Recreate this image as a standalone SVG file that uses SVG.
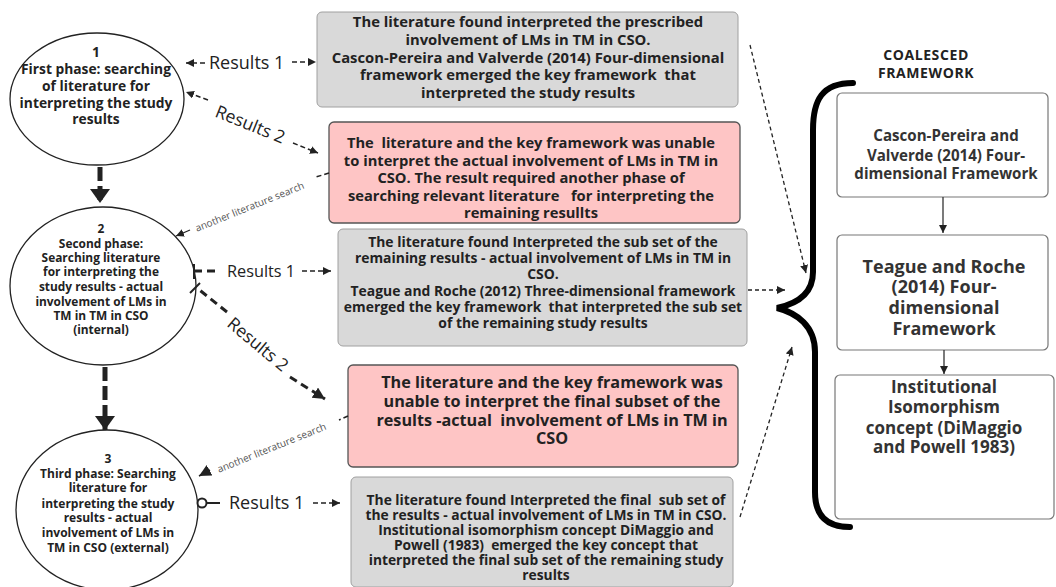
<svg xmlns="http://www.w3.org/2000/svg" width="1056" height="587" viewBox="0 0 1056 587">
<style>
.nt{font-family:"Open Sans","Noto Sans",sans-serif;font-weight:700;fill:#222;text-anchor:middle}
.rt{font-family:"Open Sans","Noto Sans",sans-serif;font-weight:700;fill:#333;text-anchor:middle}
.lbl{font-family:"Open Sans","Noto Sans",sans-serif;fill:#222}
.sm{font-family:"Open Sans","Noto Sans",sans-serif;font-size:10px;fill:#555;text-anchor:middle}
.circ{fill:#fff;stroke:#222;stroke-width:1.3}
.grey{fill:#d9d9d9;stroke:#a0a0a0;stroke-width:1}
.pink{fill:#fec5c5;stroke:#555;stroke-width:1.3}
.wbox{fill:#fff;stroke:#777;stroke-width:1.2}
.d{fill:none;stroke:#222;stroke-width:1.5;stroke-dasharray:5 3}
.dt{fill:none;stroke:#222;stroke-width:1.3;stroke-dasharray:4 3}
.thick{fill:none;stroke:#222;stroke-width:5;stroke-dasharray:14 5}
.mid{fill:none;stroke:#222;stroke-width:3;stroke-dasharray:8 5}
</style>
<defs>
<marker id="arr" markerUnits="userSpaceOnUse" markerWidth="10" markerHeight="10" refX="8" refY="4" orient="auto"><path d="M0,0 L8,4 L0,8 z" fill="#222"/></marker>
<marker id="arrM" markerUnits="userSpaceOnUse" markerWidth="14" markerHeight="14" refX="12" refY="6" orient="auto"><path d="M0,0 L12,6 L0,12 z" fill="#222"/></marker>
<marker id="arrB" markerUnits="userSpaceOnUse" markerWidth="20" markerHeight="22" refX="14" refY="10" orient="auto"><path d="M0,0 L14,10 L0,20 z" fill="#222"/></marker>
</defs>

<g id="phase1">
<ellipse class="circ" cx="97" cy="99" rx="87" ry="66"/>
<text class="nt" font-size="13.8"><tspan x="96" y="57">1</tspan><tspan x="96" y="74">First phase: searching</tspan><tspan x="96" y="91">of literature for</tspan><tspan x="96" y="108">interpreting the study</tspan><tspan x="96" y="124">results</tspan></text>
</g>
<g id="phase2">
<ellipse class="circ" cx="103" cy="286" rx="93" ry="79"/>
<text class="nt" font-size="11.9"><tspan x="101" y="233">2</tspan><tspan x="101" y="248">Second phase:</tspan><tspan x="101" y="262">Searching literature</tspan><tspan x="101" y="276">for interpreting the</tspan><tspan x="101" y="291">study results - actual</tspan><tspan x="101" y="306">involvement of LMs in</tspan><tspan x="101" y="320">TM in TM in CSO</tspan><tspan x="101" y="334">(internal)</tspan></text>
</g>
<g id="phase3">
<ellipse class="circ" cx="107" cy="510" rx="91" ry="80"/>
<text class="nt" font-size="12"><tspan x="108" y="463">3</tspan><tspan x="108" y="478">Third phase: Searching</tspan><tspan x="108" y="492">literature for</tspan><tspan x="108" y="508">interpreting the study</tspan><tspan x="108" y="522">results - actual</tspan><tspan x="108" y="537">involvement of LMs in</tspan><tspan x="108" y="552">TM in CSO (external)</tspan></text>
</g>

<g id="box1">
<rect class="grey" x="317" y="12" width="421" height="95" rx="5" stroke="#e2e2e2"/>
<text class="nt" font-size="14.8" xml:space="preserve"><tspan x="528" y="27">The literature found interpreted the prescribed</tspan><tspan x="528" y="45">involvement of LMs in TM in CSO.</tspan><tspan x="528" y="63">Cascon-Pereira and Valverde (2014) Four-dimensional</tspan><tspan x="528" y="80">framework emerged the key framework  that</tspan><tspan x="528" y="98">interpreted the study results</tspan></text>
</g>
<g id="box2">
<rect class="pink" x="329" y="122" width="411" height="101" rx="5"/>
<text class="nt" font-size="14.7" xml:space="preserve"><tspan x="531" y="148">The  literature and the key framework was unable</tspan><tspan x="531" y="166">to interpret the actual involvement of LMs in TM in</tspan><tspan x="531" y="183">CSO. The result required another phase of</tspan><tspan x="531" y="201">searching relevant literature   for interpreting the</tspan><tspan x="531" y="218">remaining resullts</tspan></text>
</g>
<g id="box3">
<rect class="grey" x="338" y="229" width="409" height="117" rx="5" stroke="#888"/>
<text class="nt" font-size="13.9" xml:space="preserve"><tspan x="543" y="247">The literature found Interpreted the sub set of the</tspan><tspan x="543" y="263">remaining results - actual involvement of LMs in TM in</tspan><tspan x="543" y="279">CSO.</tspan><tspan x="543" y="296">Teague and Roche (2012) Three-dimensional framework</tspan><tspan x="543" y="312">emerged the key framework  that interpreted the sub set</tspan><tspan x="543" y="328">of the remaining study results</tspan></text>
</g>
<g id="box4">
<rect class="pink" x="348" y="365" width="390" height="102" rx="5"/>
<text class="nt" font-size="16.2" xml:space="preserve"><tspan x="552" y="388">The literature and the key framework was</tspan><tspan x="552" y="407">unable to interpret the final subset of the</tspan><tspan x="552" y="426">results -actual  involvement of LMs in TM in</tspan><tspan x="552" y="444">CSO</tspan></text>
</g>
<g id="box5">
<rect class="grey" x="351" y="477" width="382" height="110" rx="5" stroke="#888"/>
<text class="nt" font-size="13.8" xml:space="preserve"><tspan x="546" y="505">The literature found Interpreted the final  sub set of</tspan><tspan x="546" y="520">the results - actual involvement of LMs in TM in CSO.</tspan><tspan x="546" y="535">Institutional isomorphism concept DiMaggio and</tspan><tspan x="546" y="550">Powell (1983)  emerged the key concept that</tspan><tspan x="546" y="565">interpreted the final sub set of the remaining study</tspan><tspan x="546" y="580">results</tspan></text>
</g>

<g id="coalesced-title">
<text class="nt" font-size="14" letter-spacing="0.6"><tspan x="926" y="60">COALESCED</tspan><tspan x="926" y="78">FRAMEWORK</tspan></text>
</g>
<g id="brace">
<path d="M853 83 C822 83 813 100 813 130 L813 272 C813 294 796 304 777 308 C797 313 815 326 815 352 L815 492 C815 515 826 527 850 527" fill="none" stroke="#000" stroke-width="6" stroke-linecap="round"/>
</g>
<g id="fw1">
<rect class="wbox" x="837" y="93" width="211" height="104" rx="5"/>
<text class="rt" font-size="15.1"><tspan x="946" y="141">Cascon-Pereira and</tspan><tspan x="946" y="161">Valverde (2014) Four-</tspan><tspan x="946" y="179">dimensional Framework</tspan></text>
</g>
<g id="fw2">
<rect class="wbox" x="837" y="235" width="211" height="115" rx="5"/>
<text class="rt" font-size="18"><tspan x="944" y="273">Teague and Roche</tspan><tspan x="944" y="293">(2014) Four-</tspan><tspan x="944" y="314">dimensional</tspan><tspan x="944" y="335">Framework</tspan></text>
</g>
<g id="fw3">
<rect class="wbox" x="835" y="375" width="219" height="144" rx="5"/>
<text class="rt" font-size="17"><tspan x="944" y="393">Institutional</tspan><tspan x="944" y="413">Isomorphism</tspan><tspan x="944" y="434">concept (DiMaggio</tspan><tspan x="944" y="453">and Powell 1983)</tspan></text>
</g>

<g id="connectors">
<line class="thick" x1="100" y1="167" x2="100" y2="203" marker-end="url(#arrB)"/>
<line class="thick" x1="105" y1="367" x2="105" y2="430" marker-end="url(#arrB)"/>

<line class="d" x1="205" y1="63" x2="186" y2="63" marker-end="url(#arr)"/>
<text class="lbl" font-size="18" x="209" y="69">Results 1</text>
<line class="d" x1="292" y1="62" x2="316" y2="62" marker-end="url(#arr)"/>
<line class="d" x1="208" y1="100" x2="186" y2="92" marker-end="url(#arr)"/>
<text class="lbl" font-size="17.5" text-anchor="middle" x="248" y="130" transform="rotate(22 248 130)">Results 2</text>
<line class="d" x1="293" y1="143" x2="318" y2="153" marker-end="url(#arr)"/>

<line class="d" x1="329" y1="173" x2="316" y2="177"/>
<text class="sm" x="251" y="210" transform="rotate(-22 251 210)">another literature search</text>
<line x1="190" y1="230" x2="176" y2="236" stroke="#222" stroke-width="1.3" marker-end="url(#arr)"/>

<line x1="194" y1="264" x2="194" y2="279" stroke="#222" stroke-width="2"/>
<line class="mid" x1="194" y1="271" x2="219" y2="271"/>
<text class="lbl" font-size="16.3" x="227" y="277">Results 1</text>
<line class="d" x1="302" y1="271" x2="331" y2="271" marker-end="url(#arr)"/>
<line class="mid" x1="227" y1="312" x2="197" y2="288"/>
<line x1="190" y1="293" x2="200" y2="283" stroke="#222" stroke-width="2"/>
<text class="lbl" font-size="17.5" text-anchor="middle" x="254" y="349" transform="rotate(40 254 349)">Results 2</text>
<line class="mid" x1="290" y1="377" x2="325" y2="399" marker-end="url(#arrM)"/>

<line class="d" x1="348" y1="416" x2="339" y2="420"/>
<text class="sm" x="273" y="451" transform="rotate(-22 273 451)">another literature search</text>
<line x1="210" y1="470" x2="199" y2="476" stroke="#222" stroke-width="1.5" marker-end="url(#arrM)"/>

<circle cx="202" cy="503" r="4.5" fill="#fff" stroke="#222" stroke-width="2"/>
<line x1="206.5" y1="503" x2="220" y2="503" stroke="#222" stroke-width="2"/>
<text class="lbl" font-size="18" x="229" y="509">Results 1</text>
<line class="d" x1="313" y1="503" x2="340" y2="503" marker-end="url(#arr)"/>

<line class="dt" x1="750" y1="45" x2="806" y2="273" marker-end="url(#arr)"/>
<line class="dt" x1="748" y1="290" x2="785" y2="290" marker-end="url(#arr)"/>
<line class="dt" x1="740" y1="517" x2="792" y2="347" marker-end="url(#arr)"/>
<line x1="943" y1="197" x2="943" y2="233" stroke="#333" stroke-width="1.3" marker-end="url(#arr)"/>
<line x1="944" y1="350" x2="944" y2="374" stroke="#333" stroke-width="1.3" marker-end="url(#arr)"/>
</g>
</svg>
